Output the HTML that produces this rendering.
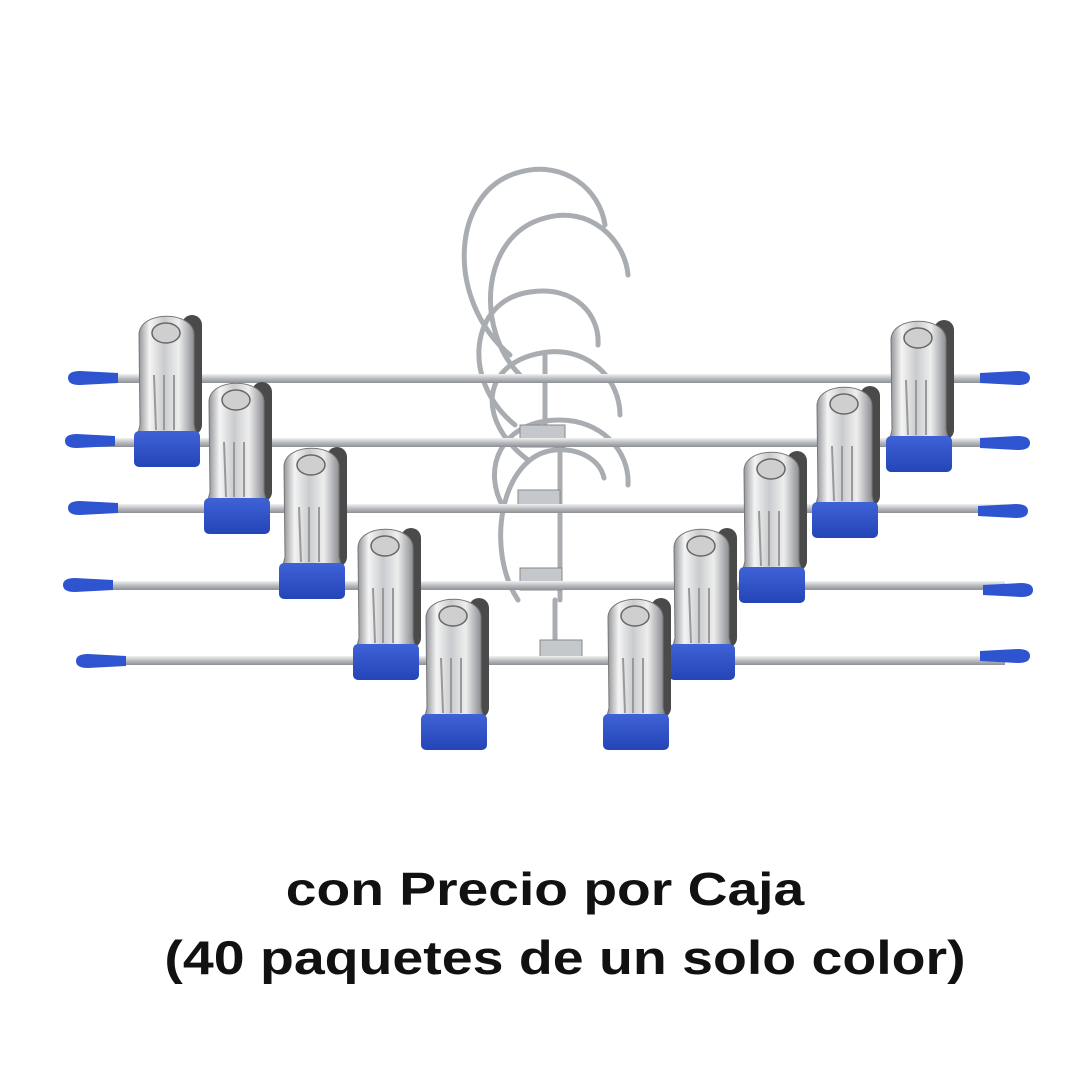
<!DOCTYPE html>
<html><head><meta charset="utf-8"><style>
html,body{margin:0;padding:0;background:#fff;width:1080px;height:1080px;overflow:hidden}
.t{position:absolute;width:1080px;text-align:center;font-family:"Liberation Sans",sans-serif;font-weight:bold;color:#111;transform-origin:540px 0}
</style></head><body>
<svg width="1080" height="1080" viewBox="0 0 1080 1080" style="position:absolute;left:0;top:0">
<defs>
<linearGradient id="rod" x1="0" y1="0" x2="0" y2="1"><stop offset="0" stop-color="#f2f2f2"/><stop offset="0.5" stop-color="#b9bcc0"/><stop offset="1" stop-color="#8d9095"/></linearGradient>
<linearGradient id="met" x1="0" y1="0" x2="1" y2="0"><stop offset="0" stop-color="#8a8d92"/><stop offset="0.2" stop-color="#f4f4f4"/><stop offset="0.45" stop-color="#c9cbce"/><stop offset="0.7" stop-color="#eeeeee"/><stop offset="1" stop-color="#7f8287"/></linearGradient>
<linearGradient id="blu" x1="0" y1="0" x2="0" y2="1"><stop offset="0" stop-color="#3f62d6"/><stop offset="1" stop-color="#2445b8"/></linearGradient>
<g id="clip">
<rect x="48" y="10" width="20" height="120" rx="10" fill="#4a4a4a"/>
<path d="M5,30 C5,5 60,5 60,30 L60,120 L62,128 L4,128 L6,120 Z" fill="url(#met)" stroke="#777" stroke-width="1"/>
<ellipse cx="32" cy="28" rx="14" ry="10" fill="#cfcfcf" stroke="#666" stroke-width="1.5"/>
<path d="M20,70 L22,125 M30,70 L30,125 M40,70 L40,125" stroke="#999" stroke-width="2"/>
<rect x="0" y="126" width="66" height="36" rx="5" fill="url(#blu)"/>
</g>
<g id="tipL"><path d="M0,7 Q0,0 12,0 L50,2 L50,12 L12,14 Q0,14 0,7Z" fill="#2e54cf"/></g>
</defs>
<g fill="none" stroke="#a9adb2" stroke-width="5" stroke-linecap="round">
<path d="M510,355 C445,300 450,190 520,172 C565,160 600,190 605,225"/>
<path d="M520,375 C475,330 480,235 545,218 C590,205 625,240 628,275"/>
<path d="M515,425 C460,380 470,300 530,292 C575,285 600,315 598,345"/>
<path d="M528,460 C475,420 480,360 548,352 C590,348 620,380 620,415"/>
<path d="M505,510 C480,470 500,420 560,420 C600,420 630,450 628,485"/>
<path d="M518,600 C485,550 500,455 555,450 C580,448 600,460 604,478"/>
<path d="M545,355 L545,435 M560,450 L560,600 M555,600 L555,660"/>
</g>
<g fill="#c4c7cb" stroke="#888" stroke-width="1">
<rect x="520" y="425" width="45" height="22"/><rect x="518" y="490" width="42" height="22"/>
<rect x="520" y="568" width="42" height="22"/><rect x="540" y="640" width="42" height="24"/>
</g>
<g>
<rect x="95" y="374" width="910" height="9" fill="url(#rod)"/>
<rect x="95" y="438" width="910" height="9" fill="url(#rod)"/>
<rect x="95" y="504" width="910" height="9" fill="url(#rod)"/>
<rect x="95" y="581" width="910" height="9" fill="url(#rod)"/>
<rect x="100" y="656" width="905" height="9" fill="url(#rod)"/>
</g>
<use href="#tipL" x="68" y="371"/><use href="#tipL" x="65" y="434"/><use href="#tipL" x="68" y="501"/><use href="#tipL" x="63" y="578"/><use href="#tipL" x="76" y="654"/>
<use href="#tipL" transform="translate(1030,371) scale(-1,1)"/><use href="#tipL" transform="translate(1030,436) scale(-1,1)"/><use href="#tipL" transform="translate(1028,504) scale(-1,1)"/><use href="#tipL" transform="translate(1033,583) scale(-1,1)"/><use href="#tipL" transform="translate(1030,649) scale(-1,1)"/>
<use href="#clip" x="134" y="305"/><use href="#clip" x="886" y="310"/>
<use href="#clip" x="204" y="372"/><use href="#clip" x="812" y="376"/>
<use href="#clip" x="279" y="437"/><use href="#clip" x="739" y="441"/>
<use href="#clip" x="353" y="518"/><use href="#clip" x="669" y="518"/>
<use href="#clip" x="421" y="588"/><use href="#clip" x="603" y="588"/>
</svg>
<div class="t" style="top:862px;left:5px;font-size:46px;transform:scaleX(1.2)">con Precio por Caja</div>
<div class="t" style="top:930px;left:25px;font-size:47px;transform:scaleX(1.18)">(40 paquetes de un solo color)</div>
</body></html>
